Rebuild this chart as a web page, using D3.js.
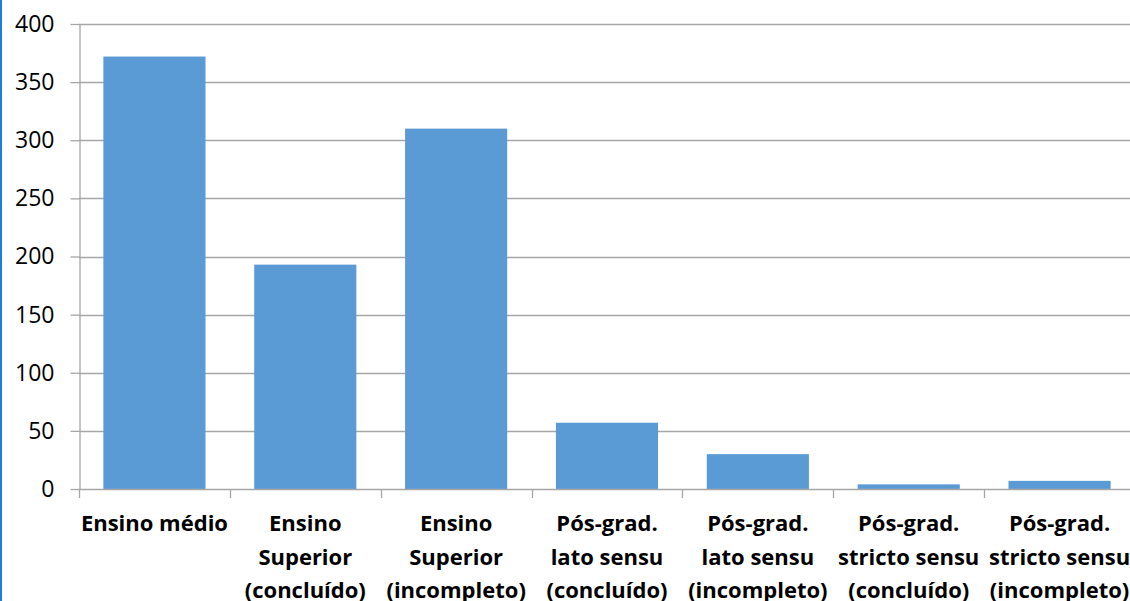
<!DOCTYPE html>
<html>
<head>
<meta charset="utf-8">
<script src="https://cdn.jsdelivr.net/npm/d3@7"></script>
<style>
  html, body { margin: 0; padding: 0; background: #fff; overflow: hidden; }
  svg { display: block; }
</style>
</head>
<body>
<svg id="chart" width="1130" height="601"></svg>
<script>
// Education level of respondents
const categories = [
  ["Ensino médio"],
  ["Ensino", "Superior", "(concluído)"],
  ["Ensino", "Superior", "(incompleto)"],
  ["Pós-grad.", "lato sensu", "(concluído)"],
  ["Pós-grad.", "lato sensu", "(incompleto)"],
  ["Pós-grad.", "stricto sensu", "(concluído)"],
  ["Pós-grad.", "stricto sensu", "(incompleto)"]
];
const values = [372, 193, 310, 57, 30, 4, 7];
const yTicks = [0, 50, 100, 150, 200, 250, 300, 350, 400];

const svg = d3.select("#chart");
const W = 1130, H = 601;
const plotLeft = 79, plotRight = 1135, plotTop = 24, plotBottom = 489;
const font = "'Open Sans', 'Liberation Sans', sans-serif";

const keys = categories.map((c, i) => i);
const x = d3.scaleBand().domain(keys).range([plotLeft, plotRight])
  .paddingInner(0.323).paddingOuter(0.1615);
const y = d3.scaleLinear().domain([0, 400]).range([plotBottom, plotTop]);
const step = (plotRight - plotLeft) / categories.length;

// outer frame edge
svg.append("line")
  .attr("x1", 1).attr("x2", 1).attr("y1", 0).attr("y2", H)
  .attr("stroke", "#1f7fd4").attr("stroke-width", 2);

// horizontal gridlines
svg.append("g").selectAll("line").data(yTicks.filter(d => d > 0)).join("line")
  .attr("x1", plotLeft).attr("x2", W)
  .attr("y1", d => Math.round(y(d)) + 0.5).attr("y2", d => Math.round(y(d)) + 0.5)
  .attr("stroke", "#a6a6a6").attr("stroke-width", 1.3);

// bars
svg.append("g").selectAll("rect").data(values).join("rect")
  .attr("x", (d, i) => x(i))
  .attr("width", x.bandwidth())
  .attr("y", d => y(d))
  .attr("height", d => y(0) - y(d))
  .attr("fill", "#5b9bd5");

// y axis
const yAxis = svg.append("g")
  .attr("transform", `translate(${plotLeft + 0.5},0)`)
  .call(d3.axisLeft(y).tickValues(yTicks).tickSize(9).tickPadding(16).tickSizeOuter(0));
yAxis.select(".domain").attr("stroke", "#a6a6a6").attr("stroke-width", 1.3);
yAxis.selectAll(".tick line").attr("stroke", "#a6a6a6").attr("stroke-width", 1.3);
yAxis.selectAll(".tick text")
  .attr("font-family", font).attr("font-size", 23).attr("fill", "#000");

// x axis baseline and category separators
svg.append("line")
  .attr("x1", plotLeft).attr("x2", W)
  .attr("y1", plotBottom + 0.5).attr("y2", plotBottom + 0.5)
  .attr("stroke", "#a6a6a6").attr("stroke-width", 1.3);
svg.append("g").selectAll("line").data(d3.range(categories.length + 1)).join("line")
  .attr("x1", i => Math.round(plotLeft + i * step) + 0.5)
  .attr("x2", i => Math.round(plotLeft + i * step) + 0.5)
  .attr("y1", plotBottom).attr("y2", plotBottom + 9)
  .attr("stroke", "#a6a6a6").attr("stroke-width", 1.3);

// category labels
const labels = svg.append("g").selectAll("text").data(categories).join("text")
  .attr("font-family", font).attr("font-size", 22).attr("font-weight", "bold")
  .attr("fill", "#000").attr("text-anchor", "middle")
  .attr("transform", (d, i) => `translate(${x(i) + x.bandwidth() / 2},531)`);
labels.selectAll("tspan").data(d => d).join("tspan")
  .attr("x", 0).attr("y", (d, j) => j * 33.5)
  .text(d => d);
</script>
</body>
</html>
